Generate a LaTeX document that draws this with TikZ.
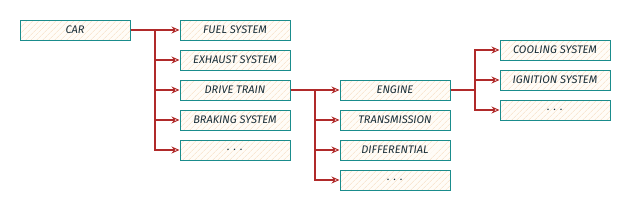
\documentclass[tikz,border=0pt]{standalone}
\usepackage{fontspec}
\setmainfont{Fira Sans}
\usetikzlibrary{arrows.meta,patterns.meta}
\definecolor{boxline}{HTML}{1A8C8C}
\definecolor{boxfill}{HTML}{FFFCF7}
\definecolor{hatch}{HTML}{F7DDC0}
\definecolor{conncol}{HTML}{B02A2A}
\definecolor{txt}{HTML}{1A2E38}
\tikzset{
  box/.style={draw=boxline, line width=1pt,
    preaction={fill=boxfill},
    preaction={pattern={Lines[angle=45, distance=4pt, line width=0.5pt]}, pattern color=hatch},
    minimum width=110pt, minimum height=20pt, inner sep=0pt,
    font=\fontsize{11}{12}\selectfont\itshape, text=txt},
  conn/.style={draw=conncol, line width=1.1pt, -{Stealth[open, length=8pt, width=7pt, line width=0.9pt]}},
}
\begin{document}
\begin{tikzpicture}[x=1pt, y=-1pt]
\useasboundingbox (0,0) rectangle (632,212);
\node[box] (car) at (75,30) {CAR};
\node[box] (fuel) at (235,30) {FUEL SYSTEM};
\node[box] (exh) at (235,60) {EXHAUST SYSTEM};
\node[box] (drive) at (235,90) {DRIVE TRAIN};
\node[box] (brake) at (235,120) {BRAKING SYSTEM};
\node[box] (more1) at (235,150) {. . .};
\node[box] (engine) at (395,90) {ENGINE};
\node[box] (trans) at (395,120) {TRANSMISSION};
\node[box] (diff) at (395,150) {DIFFERENTIAL};
\node[box] (more2) at (395,180) {. . .};
\node[box] (cool) at (555,50) {COOLING SYSTEM};
\node[box] (ign) at (555,80) {IGNITION SYSTEM};
\node[box] (more3) at (555,110) {. . .};
\coordinate (t1) at (155,30);
\coordinate (t2) at (315,90);
\coordinate (t3) at (475,90);
\foreach \c in {fuel,exh,drive,brake,more1}{\draw[conn] (car.east) -- (t1) |- (\c.west);}
\foreach \c in {engine,trans,diff,more2}{\draw[conn] (drive.east) -- (t2) |- (\c.west);}
\foreach \c in {cool,ign,more3}{\draw[conn] (engine.east) -- (t3) |- (\c.west);}
\end{tikzpicture}
\end{document}
